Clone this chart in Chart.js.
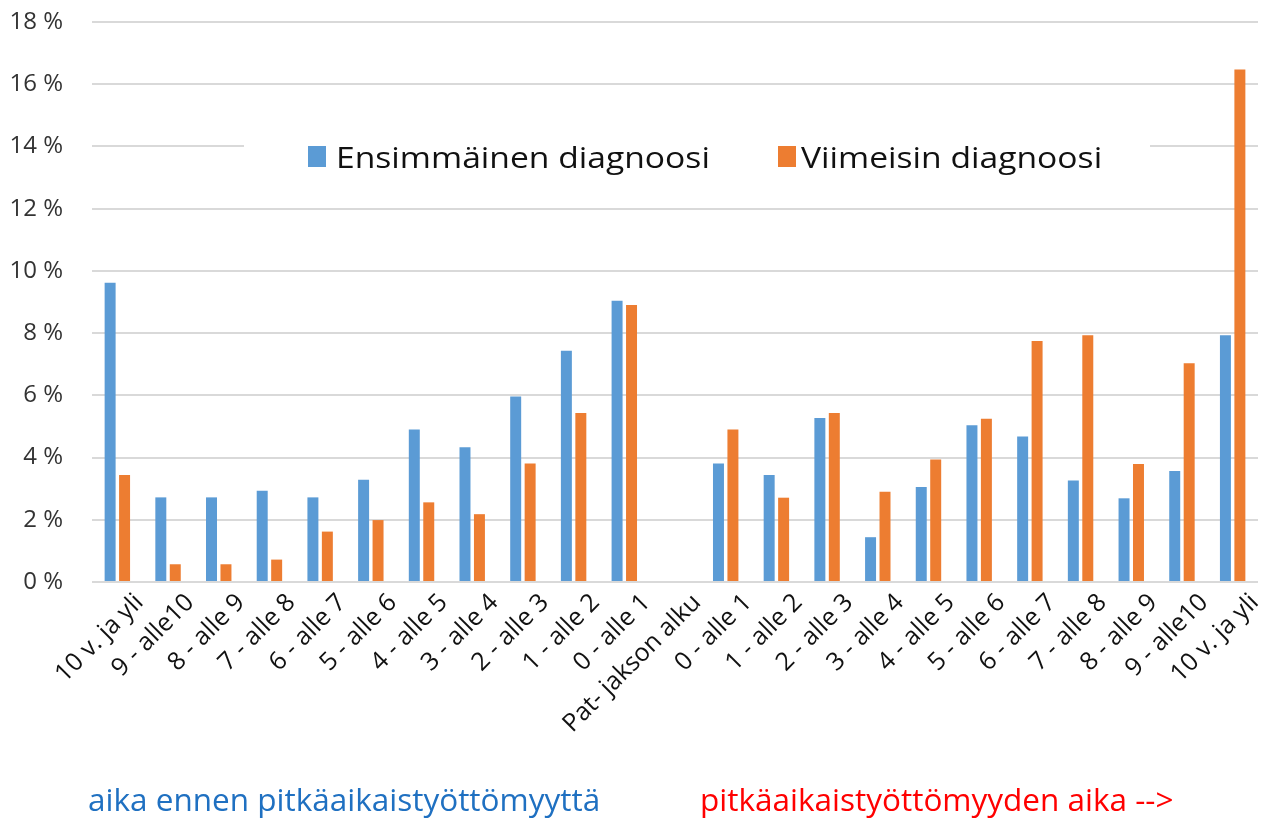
<!DOCTYPE html>
<html>
<head>
<meta charset="utf-8">
<script src="https://cdn.jsdelivr.net/npm/chart.js@4/dist/chart.umd.min.js"></script>
<style>
  html, body { margin: 0; padding: 0; background: #fff; }
  #wrap { width: 1266px; height: 822px; position: relative; }
</style>
</head>
<body>
<div id="wrap"><canvas id="c" width="1266" height="822"></canvas></div>
<script>
// Years relative to the start of long-term unemployment
const categories = [
  "10 v. ja yli", "9 - alle10", "8 - alle 9", "7 - alle 8", "6 - alle 7", "5 - alle 6",
  "4 - alle 5", "3 - alle 4", "2 - alle 3", "1 - alle 2", "0 - alle 1",
  "Pat- jakson alku",
  "0 - alle 1", "1 - alle 2", "2 - alle 3", "3 - alle 4", "4 - alle 5", "5 - alle 6",
  "6 - alle 7", "7 - alle 8", "8 - alle 9", "9 - alle10", "10 v. ja yli"
];

// Share of diagnoses (%)
const firstDiagnosis = [9.62, 2.72, 2.72, 2.93, 2.72, 3.29, 4.90, 4.33, 5.96, 7.43, 9.04, null,
  3.81, 3.44, 5.27, 1.44, 3.05, 5.04, 4.68, 3.26, 2.69, 3.57, 7.93];
const latestDiagnosis = [3.44, 0.57, 0.57, 0.72, 1.62, 1.99, 2.56, 2.18, 3.81, 5.43, 8.90, null,
  4.90, 2.71, 5.43, 2.90, 3.94, 5.25, 7.75, 7.93, 3.79, 7.03, 16.47];

const seriesNames = ["Ensimmäinen diagnoosi", "Viimeisin diagnoosi"];
const yTicks = [0, 2, 4, 6, 8, 10, 12, 14, 16, 18];
const captions = ["aika ennen pitkäaikaistyöttömyyttä", "pitkäaikaistyöttömyyden aika -->"];

const FONT = "'Open Sans', 'Noto Sans', sans-serif";

// Legend box inside the plot area, on a white background
const innerLegend = {
  id: 'innerLegend',
  afterDatasetsDraw(chart) {
    const ctx = chart.ctx;
    ctx.save();
    ctx.fillStyle = '#ffffff';
    ctx.fillRect(244, 126, 906, 62);
    ctx.font = '29px ' + FONT;
    ctx.textBaseline = 'alphabetic';
    ctx.textAlign = 'left';
    const items = [
      { sq: 308, tx: 336 },
      { sq: 778, tx: 801 }
    ];
    chart.data.datasets.forEach((ds, i) => {
      const it = items[i];
      ctx.fillStyle = ds.backgroundColor;
      ctx.fillRect(it.sq, 146, 18, 21);
      ctx.fillStyle = '#111111';
      // slightly wide lettering
      ctx.save();
      ctx.translate(it.tx, 168);
      ctx.scale(1.16, 1);
      ctx.fillText(ds.label, 0, 0);
      ctx.restore();
    });
    ctx.restore();
  }
};

// Period captions under the category axis
const periodCaptions = {
  id: 'periodCaptions',
  afterDraw(chart) {
    const ctx = chart.ctx;
    ctx.save();
    ctx.font = '31.5px ' + FONT;
    ctx.textBaseline = 'alphabetic';
    ctx.textAlign = 'left';
    ctx.fillStyle = '#1f70c1';
    ctx.fillText(captions[0], 88, 811);
    ctx.fillStyle = '#ff0000';
    ctx.fillText(captions[1], 700, 811);
    ctx.restore();
  }
};

new Chart(document.getElementById('c'), {
  type: 'bar',
  data: {
    labels: categories,
    datasets: [
      { label: seriesNames[0], data: firstDiagnosis, backgroundColor: '#5b9bd5',
        barPercentage: 0.76, categoryPercentage: 0.57 },
      { label: seriesNames[1], data: latestDiagnosis, backgroundColor: '#ed7d31',
        barPercentage: 0.76, categoryPercentage: 0.57 }
    ]
  },
  options: {
    responsive: false,
    animation: false,
    devicePixelRatio: 1,
    layout: { padding: { top: 22, right: 8, left: 0, bottom: 0 } },
    plugins: {
      legend: { display: false },
      tooltip: { enabled: false }
    },
    scales: {
      x: {
        grid: { display: false, drawTicks: false },
        border: { display: false },
        ticks: {
          autoSkip: false, minRotation: 45, maxRotation: 45,
          color: '#111111', padding: 6, labelOffset: 22,
          font: { family: FONT, size: 25 }
        },
        afterFit(scale) { scale.height = 240; scale.paddingLeft = 0; scale.paddingRight = 0; }
      },
      y: {
        min: 0, max: 18,
        afterBuildTicks(scale) { scale.ticks = yTicks.map(v => ({ value: v })); },
        grid: { color: '#d9d9d9', lineWidth: 2, drawTicks: false },
        border: { display: false },
        ticks: {
          padding: 29, color: '#333333',
          font: { family: FONT, size: 24 },
          callback: v => v + ' %'
        },
        afterFit(scale) { scale.width = 92; scale.paddingTop = 0; scale.paddingBottom = 0; }
      }
    }
  },
  plugins: [innerLegend, periodCaptions]
});
</script>
</body>
</html>
